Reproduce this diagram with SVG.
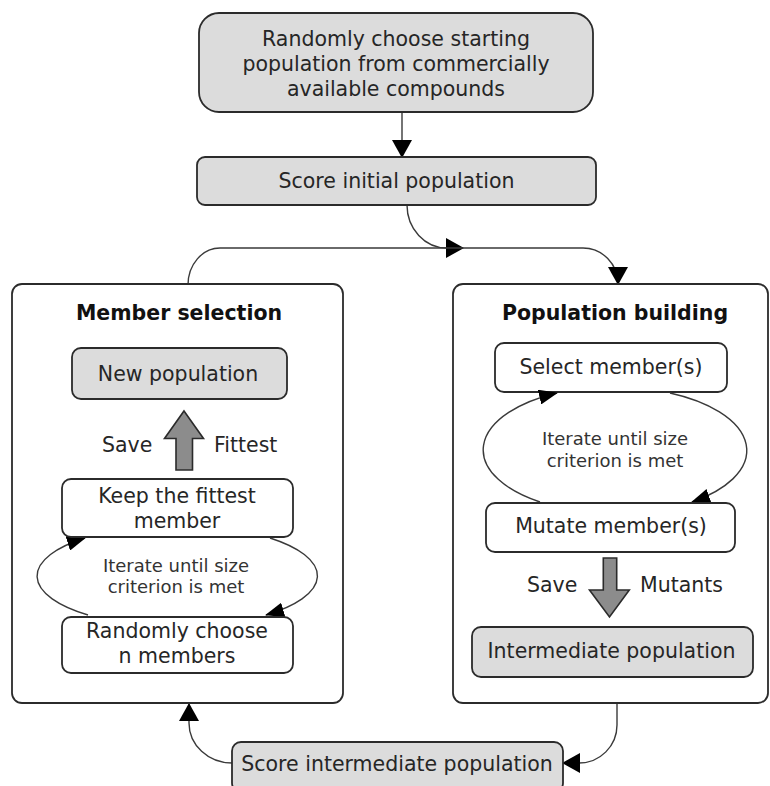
<svg xmlns="http://www.w3.org/2000/svg" width="770" height="786" viewBox="0 0 770 786">
<defs>
<style>
text{font-family:"DejaVu Sans","Liberation Sans",sans-serif;fill:#262626;text-anchor:middle;}
.t{font-size:20.5px;}
.s{font-size:18px;fill:#333;}
.b{font-size:20.5px;font-weight:bold;fill:#111;}
.l{text-anchor:start;}
.box{stroke:#2b2b2b;stroke-width:1.8;}
.g{fill:#dcdcdc;}
.w{fill:#fff;}
.c{fill:none;stroke:#3a3a3a;stroke-width:1.4;}
.bar{fill:#8c8c8c;stroke:#2b2b2b;stroke-width:1.6;stroke-linejoin:miter;}
</style>
<marker id="ah" markerWidth="18" markerHeight="20" refX="17" refY="10" orient="auto" markerUnits="userSpaceOnUse"><path d="M0,0 L18,10 L0,20 z" fill="#000"/></marker>
<marker id="as" markerWidth="19" markerHeight="15" refX="18" refY="7.5" orient="auto" markerUnits="userSpaceOnUse"><path d="M0,0 L19,7.5 L0,15 z" fill="#000"/></marker>
</defs>

<g id="connectors">
<path class="c" d="M402 113 V157" marker-end="url(#ah)"/>
<path class="c" d="M407 205 A40 43 0 0 0 447 248 L463 248" marker-end="url(#ah)"/>
<path class="c" d="M188 285 A32 37 0 0 1 220 248 H583 A35 36 0 0 1 618 284" marker-end="url(#ah)"/>
<path class="c" d="M232 763 A43 40 0 0 1 189 723 L189 704" marker-end="url(#ah)"/>
<path class="c" d="M617 703 L617 725 A38 38 0 0 1 579 763 L563 763" marker-end="url(#ah)"/>
</g>

<g id="member-selection">
<rect class="box w" x="12" y="284" width="331" height="419" rx="10"/>
<text class="b" x="179" y="320">Member selection</text>
</g>

<g id="population-building">
<rect class="box w" x="453" y="284" width="315" height="419" rx="10"/>
<text class="b" x="615" y="320">Population building</text>
</g>

<g id="start">
<rect class="box g" x="199" y="13" width="394" height="99" rx="20"/>
<text class="t" x="396" y="46">Randomly choose starting</text>
<text class="t" x="396" y="71">population from commercially</text>
<text class="t" x="396" y="96">available compounds</text>
</g>

<g id="score-initial">
<rect class="box g" x="197" y="157" width="399" height="48" rx="8"/>
<text class="t" x="396.5" y="188">Score initial population</text>
</g>

<g id="new-population">
<rect class="box g" x="72" y="348" width="215" height="51" rx="9"/>
<text class="t" x="178" y="381">New population</text>
</g>

<g id="save-fittest">
<path class="bar" d="M184 411 L203.5 438.5 L192.5 438.5 L192.5 470 L176 470 L176 438.5 L164.5 438.5 Z"/>
<text class="t l" x="102" y="452">Save</text>
<text class="t l" x="214" y="452">Fittest</text>
</g>

<g id="loop-left">
<path class="c" d="M88 615 A140 50.5 0 0 1 85 538" marker-end="url(#as)"/>
<path class="c" d="M270 538 A140 50.5 0 0 1 266 615" marker-end="url(#as)"/>
<text class="s" x="176" y="572">Iterate until size</text>
<text class="s" x="176" y="593">criterion is met</text>
</g>

<g id="keep-fittest">
<rect class="box w" x="62" y="479" width="231" height="58" rx="9"/>
<text class="t" x="177" y="503">Keep the fittest</text>
<text class="t" x="177" y="528">member</text>
</g>

<g id="randomly-choose">
<rect class="box w" x="62" y="617" width="231" height="56" rx="9"/>
<text class="t" x="177" y="638">Randomly choose</text>
<text class="t" x="177" y="663">n members</text>
</g>

<g id="select-members">
<rect class="box w" x="495" y="343" width="232" height="49" rx="9"/>
<text class="t" x="611" y="374">Select member(s)</text>
</g>

<g id="loop-right">
<path class="c" d="M540 502 A132 63.4 0 0 1 557 393" marker-end="url(#as)"/>
<path class="c" d="M670 393 A132 63.4 0 0 1 692 502" marker-end="url(#as)"/>
<text class="s" x="615" y="445">Iterate until size</text>
<text class="s" x="615" y="467">criterion is met</text>
</g>

<g id="mutate-members">
<rect class="box w" x="486" y="503" width="249" height="49" rx="9"/>
<text class="t" x="611" y="533">Mutate member(s)</text>
</g>

<g id="save-mutants">
<path class="bar" d="M603.3 558 L616.7 558 L616.7 590 L629.3 590 L609.5 617 L589.5 590 L603.3 590 Z"/>
<text class="t l" x="527" y="592">Save</text>
<text class="t l" x="640" y="592">Mutants</text>
</g>

<g id="intermediate-population">
<rect class="box g" x="472" y="627" width="281" height="50" rx="9"/>
<text class="t" x="611.5" y="658">Intermediate population</text>
</g>

<g id="score-intermediate">
<rect class="box g" x="232" y="742" width="331" height="50" rx="9"/>
<text class="t" x="397" y="771">Score intermediate population</text>
</g>
</svg>
